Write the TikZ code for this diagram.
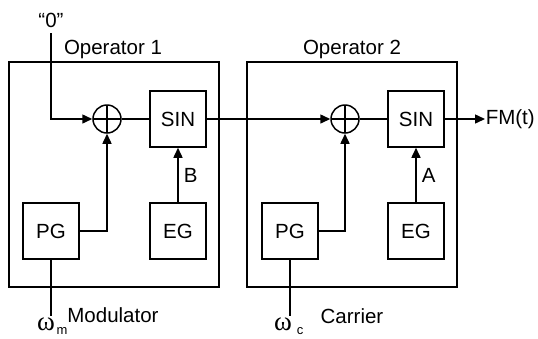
\documentclass[tikz,border=0pt]{standalone}
\usepackage{fontspec}
\setmainfont{Liberation Sans}
\newfontfamily\omfont{Liberation Serif}
\usetikzlibrary{arrows.meta,calc}
\begin{document}
\begin{tikzpicture}[x=1pt,y=-1pt,line width=1.5pt,
  font=\fontsize{20.5}{24}\selectfont,
  arr/.style={-{Triangle[length=10pt,width=9pt]}},
  blk/.style={draw,minimum width=56pt,minimum height=56pt,inner sep=0pt},
  opbox/.style={draw,minimum width=210pt,minimum height=225pt,inner sep=0pt},
  adder/.style={draw,circle,minimum size=28pt,inner sep=0pt,
    path picture={\draw (path picture bounding box.north) -- (path picture bounding box.south)
      (path picture bounding box.west) -- (path picture bounding box.east);}},
  lbl/.style={inner sep=0pt}
]
\useasboundingbox (0,0) rectangle (538,338);
% operator boxes
\node[opbox] (op1) at (114,174.5) {};
\node[opbox] (op2) at (352,174.5) {};
\node[lbl] (op1t) at (113,49) {Operator 1};
\node[lbl] (op2t) at (352,49) {Operator 2};
% blocks
\node[adder] (add1) at (107,119) {};
\node[blk] (sin1) at (178,119) {SIN};
\node[blk] (pg1) at (51,231) {PG};
\node[blk] (eg1) at (178,231) {EG};
\node[adder] (add2) at (345,119) {};
\node[blk] (sin2) at (416,119) {SIN};
\node[blk] (pg2) at (290,231) {PG};
\node[blk] (eg2) at (416,231) {EG};
% labels
\node[lbl] (zero) at (51,20) {“0”};
\coordinate (zerotop) at (51,33);
\node[lbl,anchor=west] (fm) at (485,119) {FM(t)};
\node[lbl] (modt) at (113,315) {Modulator};
\node[lbl] (cart) at (352,316) {Carrier};
\coordinate (wmtop) at (51,316);
\coordinate (wctop) at (290,316);
\node[lbl,font=\omfont\fontsize{27}{29}\selectfont] (wm) at (46,324) {ω};
\node[lbl,font=\fontsize{13}{15}\selectfont] (wmsub) at (62,331) {m};
\node[lbl,font=\omfont\fontsize{27}{29}\selectfont] (wc) at (283,324) {ω};
\node[lbl,font=\fontsize{13}{15}\selectfont] (wcsub) at (300,331) {c};
% connectors
\draw[arr] (zerotop) |- (add1.west);
\draw (add1.east) -- (sin1.west);
\draw[arr] (sin1.east) -- (add2.west);
\draw (add2.east) -- (sin2.west);
\draw[arr] (sin2.east) -- (fm.west);
\draw[arr] (pg1.east) -| (add1.south);
\draw[arr] (pg2.east) -| (add2.south);
\draw[arr] (eg1.north) -- node[lbl,right=5pt] (blab) {B} (sin1.south);
\draw[arr] (eg2.north) -- node[lbl,right=5pt] (alab) {A} (sin2.south);
\draw (pg1.south) -- (wmtop);
\draw (pg2.south) -- (wctop);
\end{tikzpicture}
\end{document}
